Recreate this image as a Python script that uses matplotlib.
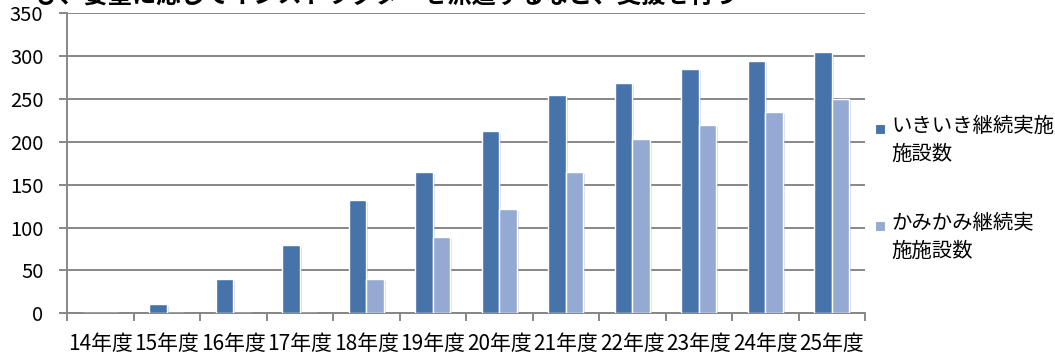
import matplotlib
matplotlib.use("Agg")
import matplotlib.pyplot as plt
from matplotlib.patches import Rectangle
import matplotlib.patheffects as pe
import numpy as np

plt.rcParams['font.family'] = ['Noto Sans CJK JP', 'DejaVu Sans']

years = ['14年度', '15年度', '16年度', '17年度', '18年度', '19年度',
         '20年度', '21年度', '22年度', '23年度', '24年度', '25年度']
ikiiki = [0, 11, 40, 80, 132, 165, 213, 255, 269, 285, 294, 305]
kamikami = [0, 0, 0, 0, 40, 89, 122, 165, 203, 220, 235, 250]
series_names = ['いきいき継続実施\n施設数', 'かみかみ継続実\n施施設数']
colors = ['#4673AA', '#95AAD2']

W, H = 1055, 353
fig = plt.figure(figsize=(W / 100, H / 100), dpi=100)
ax = fig.add_axes([67 / W, 1 - 313.3 / H, (865 - 67) / W, 300 / H])

x = np.arange(len(years))
bw = 0.26
shadow = [pe.SimplePatchShadow(offset=(1.5, -1.5), shadow_rgbFace='#999999', alpha=0.35), pe.Normal()]
b1 = ax.bar(x - bw, ikiiki, bw, align='edge', color=colors[0], edgecolor='white', linewidth=1.0, zorder=3)
b2 = ax.bar(x, kamikami, bw, align='edge', color=colors[1], edgecolor='white', linewidth=1.0, zorder=3)
for b in list(b1) + list(b2):
    b.set_path_effects(shadow)

ax.set_xlim(-0.5, len(years) - 0.5)
ax.set_ylim(0, 350)
ax.set_yticks(np.arange(0, 351, 50))
ax.yaxis.grid(True, color='#878787', linewidth=1.4, zorder=0)
ax.set_axisbelow(True)

ax.set_xticks(x)
ax.set_xticklabels(years)
ax.set_xticks(np.arange(-0.5, len(years)), minor=True)
ax.tick_params(axis='x', which='major', length=0, pad=14, labelsize=15)
ax.tick_params(axis='x', which='minor', length=6, width=1.4, color='#878787')
ax.tick_params(axis='y', length=6, width=1.4, color='#878787', pad=11, labelsize=14.5)

for side in ['top', 'right']:
    ax.spines[side].set_visible(False)
for side in ['left', 'bottom']:
    ax.spines[side].set_color('#878787')
    ax.spines[side].set_linewidth(1.4)

# legend drawn by hand so the swatch sits on the first line
for i, (name, c) in enumerate(zip(series_names, colors)):
    yc = 129 + i * 97
    fig.add_artist(Rectangle((875 / W, 1 - (yc + 5) / H), 10 / W, 10 / H,
                             transform=fig.transFigure, facecolor=c, edgecolor='white', linewidth=0.8))
    fig.text(891 / W, 1 - (yc - 13) / H, name, fontsize=14.7, va='top', ha='left', linespacing=1.4)

fig.text(739 / W, 1 - 9 / H, 'び、要望に応じてインストラクターを派遣するなど、支援を行う',
         fontsize=17.5, fontweight='bold', ha='right', va='bottom')

fig.savefig('out.png', dpi=100)
